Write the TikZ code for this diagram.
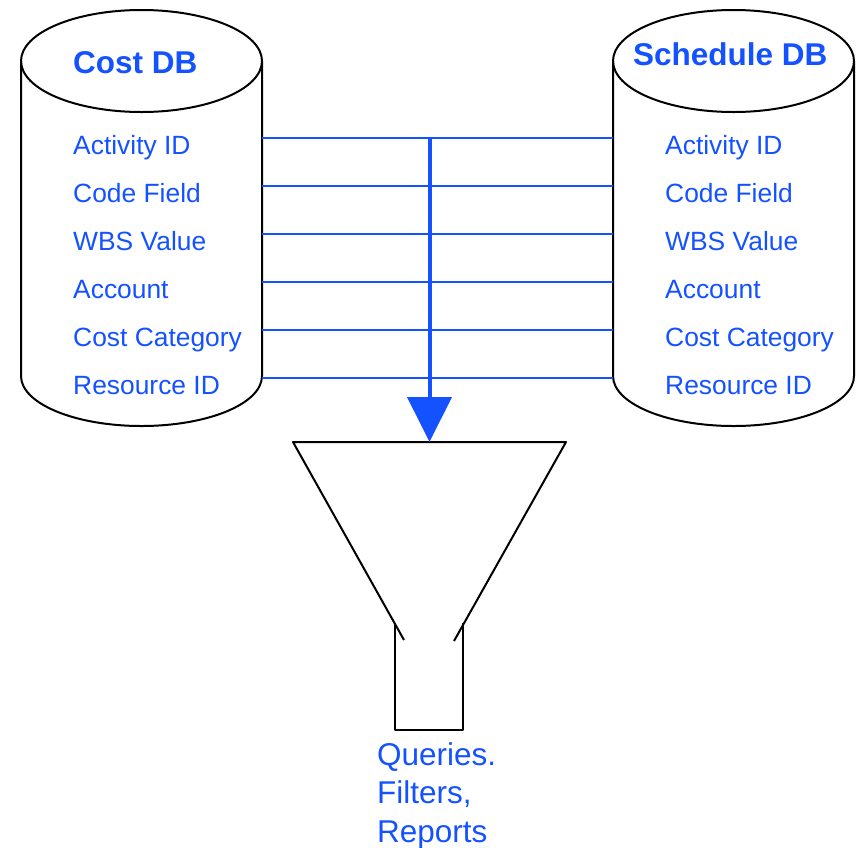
\documentclass[tikz,border=0pt]{standalone}
\usepackage{fontspec}
\setmainfont{Liberation Sans}
\usetikzlibrary{arrows.meta}
\definecolor{dbblue}{RGB}{20,82,255}
\begin{document}
\begin{tikzpicture}[x=1pt,y=-1pt,
  outline/.style={draw=black,line width=2pt,line join=round},
  link/.style={draw=dbblue,line width=1.8pt},
  flow/.style={draw=dbblue,line width=4pt,-{Triangle[width=44pt,length=45pt]}},
  dbtitle/.style={text=dbblue,font=\fontsize{31.5}{36}\selectfont\bfseries,inner sep=0pt,anchor=base west},
  field/.style={text=dbblue,font=\fontsize{26.4}{30}\selectfont,inner sep=0pt,anchor=base west},
  outlabel/.style={text=dbblue,font=\fontsize{31.5}{38.5}\selectfont,inner sep=0pt,align=left,anchor=north west}]
\useasboundingbox (0,0) rectangle (862,847);

% database cylinders
\foreach \cx in {141.5,733.5}{
  \draw[outline] (\cx,61) ellipse [x radius=120.5pt, y radius=51pt];
  \draw[outline] (\cx-120.5,61) -- (\cx-120.5,376)
    arc[start angle=180, end angle=360, x radius=120.5pt, y radius=50pt]
    -- (\cx+120.5,61);
}

\node[dbtitle] (costtitle) at (73,73) {Cost DB};
\node[dbtitle] (schedtitle) at (633,65.5) {Schedule DB};

% field rows and the links joining them
\foreach \i/\name in {1/Activity ID,2/Code Field,3/WBS Value,4/Account,5/Cost Category,6/Resource ID}{
  \pgfmathsetmacro{\ry}{138+48*(\i-1)}
  \node[field] (costF\i) at (73,\ry+16.5) {\name};
  \node[field] (schedF\i) at (665,\ry+16.5) {\name};
  \coordinate (costR\i) at (262,\ry);
  \coordinate (schedL\i) at (613,\ry);
  \draw[link] (costR\i) -- (schedL\i);
}

% funnel
\coordinate (hub) at (429.5,138);
\coordinate (funnelTop) at (429.5,442);
\draw[outline] (404,640) -- (293,442) -- (566,442) -- (454,641);
\draw[outline] (395,623) -- (395,730) -- (463,730) -- (463,623);

\draw[flow] (hub) -- (funnelTop);

\node[outlabel] (results) at (377,742) {Queries.\\Filters,\\Reports};
\end{tikzpicture}
\end{document}
